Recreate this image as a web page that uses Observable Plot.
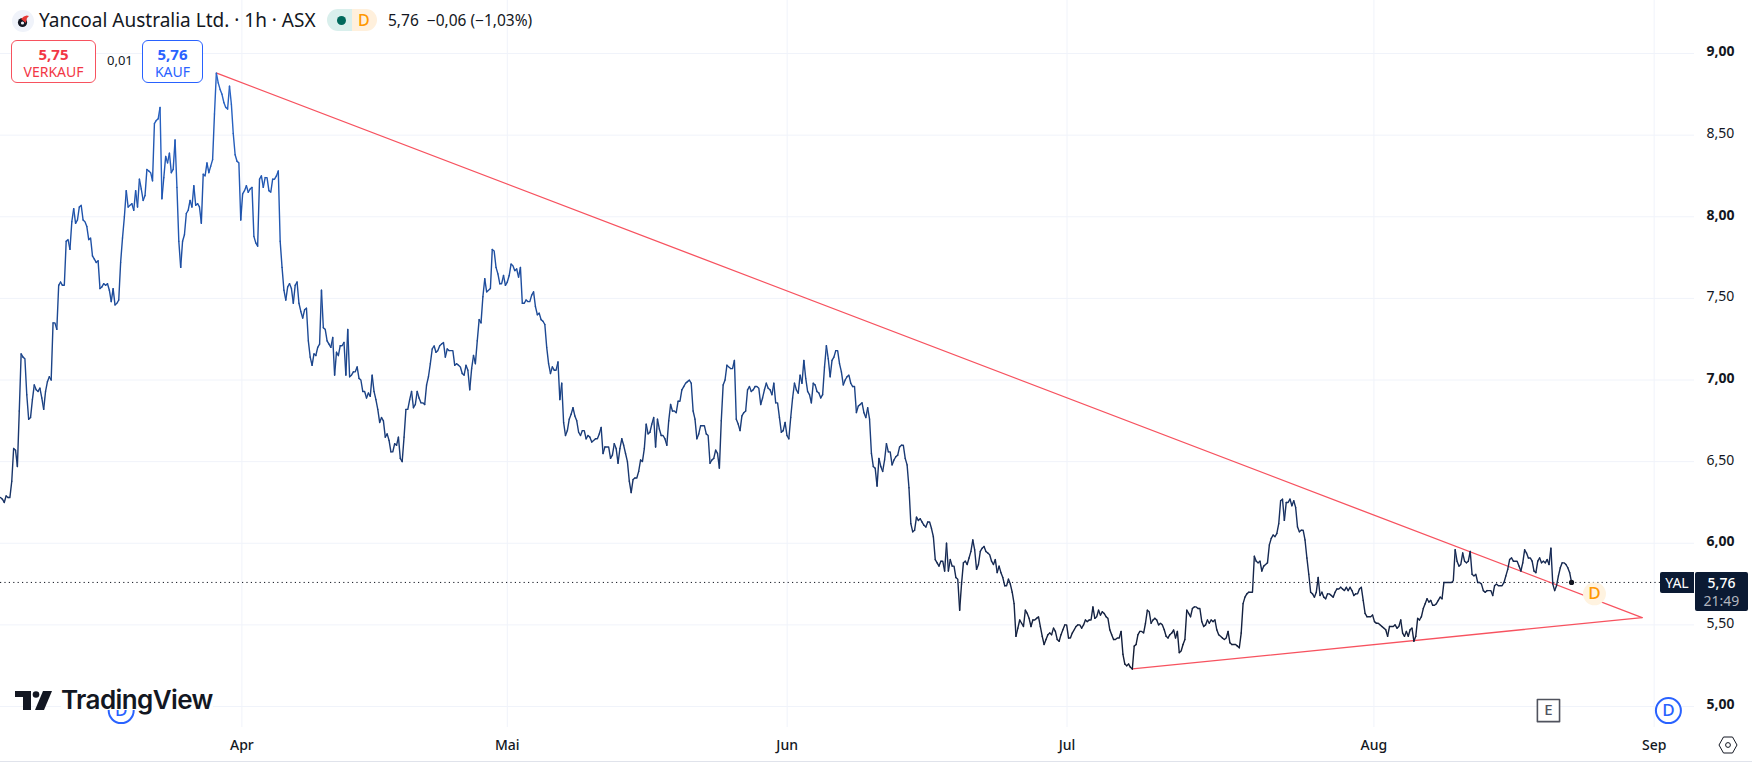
<!DOCTYPE html>
<html lang="de">
<head>
<meta charset="utf-8">
<title>Yancoal Australia Ltd. 1h ASX</title>
<script src="https://cdn.jsdelivr.net/npm/d3@7"></script>
<script src="https://cdn.jsdelivr.net/npm/@observablehq/plot@0.6"></script>
<style>
html,body{margin:0;padding:0;background:#fff;width:1752px;height:765px;overflow:hidden}
#stage{position:relative;width:1752px;height:765px;font-family:"Noto Sans",sans-serif;color:#131722}
#stage svg{display:block}
.ov{position:absolute;white-space:nowrap;line-height:1}
.box{position:absolute;box-sizing:border-box;border:1px solid;border-radius:6px;top:40px;height:43px;text-align:center;background:#fff}
.box b{display:block;font-size:15px;font-weight:700;line-height:15px;margin-top:6px}
.box span{display:block;font-size:14px;line-height:14px;margin-top:3px}
</style>
</head>
<body>
<div id="stage"></div>
<script>
// Hourly closes, one entry per bar
const closes = [
6.28,6.27,6.25,6.29,6.28,6.28,6.38,6.58,6.57,6.47,6.81,7.16,7.14,7.13,6.91,6.76,6.77,6.88,6.97,6.94,
6.93,6.95,6.89,6.82,6.93,6.99,7.02,7.00,7.35,7.35,7.31,7.58,7.60,7.58,7.58,7.85,7.86,7.80,7.97,8.05,
7.96,7.98,8.06,8.07,7.98,7.97,7.94,7.86,7.87,7.76,7.74,7.72,7.73,7.56,7.57,7.59,7.58,7.59,7.55,7.48,
7.56,7.46,7.47,7.49,7.72,7.87,8.00,8.16,8.06,8.07,8.08,8.04,8.16,8.06,8.23,8.17,8.10,8.13,8.29,8.28,
8.27,8.22,8.57,8.59,8.60,8.67,8.11,8.24,8.37,8.33,8.39,8.27,8.29,8.47,8.18,7.85,7.69,7.85,7.89,8.02,
8.04,8.10,8.06,8.19,8.07,8.08,8.06,7.96,8.26,8.25,8.33,8.27,8.31,8.35,8.63,8.88,8.82,8.78,8.75,8.70,
8.67,8.66,8.80,8.69,8.51,8.38,8.34,8.33,7.98,8.14,8.16,8.19,8.15,8.17,8.18,7.88,7.84,7.82,8.23,8.25,
8.18,8.24,8.24,8.16,8.15,8.23,8.23,8.25,8.28,7.85,7.69,7.55,7.49,7.57,7.59,7.56,7.47,7.58,7.60,7.47,
7.42,7.38,7.43,7.44,7.24,7.14,7.09,7.16,7.15,7.20,7.22,7.55,7.32,7.31,7.24,7.22,7.20,7.26,7.03,7.17,
7.15,7.21,7.21,7.23,7.03,7.31,7.02,7.03,7.05,7.05,7.08,7.01,7.00,6.93,6.93,6.89,6.92,6.90,7.03,6.93,
6.88,6.82,6.74,6.77,6.75,6.65,6.67,6.63,6.56,6.56,6.61,6.60,6.65,6.52,6.50,6.65,6.82,6.82,6.88,6.93,
6.83,6.85,6.93,6.89,6.86,6.86,6.85,6.97,7.02,7.10,7.19,7.21,7.17,7.18,7.21,7.22,7.23,7.14,7.19,7.18,
7.18,7.18,7.09,7.10,7.09,7.08,7.04,7.03,7.09,7.06,6.94,7.07,7.15,7.10,7.24,7.37,7.35,7.51,7.62,7.54,
7.55,7.56,7.80,7.79,7.69,7.65,7.59,7.59,7.64,7.58,7.60,7.64,7.71,7.70,7.67,7.68,7.63,7.69,7.47,7.47,
7.49,7.48,7.48,7.52,7.54,7.45,7.40,7.41,7.37,7.36,7.34,7.20,7.10,7.04,7.08,7.06,7.06,7.11,6.88,6.98,
6.74,6.66,6.69,6.76,6.79,6.83,6.78,6.75,6.68,6.66,6.69,6.69,6.64,6.66,6.65,6.62,6.63,6.64,6.64,6.67,
6.71,6.55,6.59,6.59,6.59,6.52,6.54,6.61,6.58,6.49,6.58,6.64,6.60,6.55,6.50,6.38,6.31,6.39,6.40,6.40,
6.44,6.51,6.50,6.58,6.73,6.67,6.68,6.73,6.77,6.59,6.76,6.70,6.66,6.66,6.64,6.60,6.75,6.85,6.81,6.81,
6.80,6.87,6.87,6.94,6.96,6.98,6.99,7.00,6.98,6.81,6.76,6.64,6.67,6.72,6.72,6.72,6.67,6.66,6.49,6.51,
6.52,6.57,6.55,6.46,6.75,6.97,7.00,7.09,7.08,7.07,7.07,7.12,6.76,6.73,6.69,6.78,6.80,6.81,6.94,6.96,
6.93,6.94,6.96,6.96,6.95,6.85,6.89,6.94,6.98,6.95,6.94,6.91,6.98,6.86,6.86,6.77,6.68,6.69,6.74,6.66,
6.64,6.77,6.89,6.98,6.94,6.92,7.03,6.98,7.12,7.01,6.93,6.91,6.86,6.98,6.97,6.93,6.92,6.89,6.91,7.08,
7.21,7.13,7.02,7.12,7.14,7.18,7.18,7.10,7.05,6.97,7.00,7.02,7.03,6.98,6.96,6.96,6.80,6.84,6.85,6.86,
6.80,6.77,6.83,6.76,6.55,6.47,6.46,6.35,6.52,6.47,6.44,6.51,6.61,6.56,6.56,6.48,6.51,6.53,6.54,6.59,
6.60,6.60,6.52,6.48,6.34,6.12,6.07,6.08,6.16,6.14,6.15,6.13,6.11,6.10,6.13,6.13,6.09,6.04,5.90,5.88,
5.86,5.89,5.89,5.83,6.00,5.83,5.90,5.86,5.86,5.79,5.78,5.59,5.75,5.88,5.89,5.87,5.91,5.95,6.02,5.96,
5.84,5.87,5.95,5.97,5.98,5.95,5.94,5.93,5.89,5.87,5.90,5.82,5.86,5.82,5.79,5.74,5.74,5.78,5.75,5.70,
5.63,5.43,5.48,5.53,5.51,5.49,5.59,5.57,5.54,5.49,5.53,5.53,5.54,5.55,5.49,5.43,5.38,5.41,5.44,5.45,
5.44,5.48,5.46,5.41,5.40,5.44,5.47,5.50,5.50,5.42,5.42,5.45,5.47,5.49,5.50,5.50,5.48,5.50,5.53,5.52,
5.53,5.53,5.61,5.54,5.55,5.59,5.56,5.58,5.57,5.55,5.54,5.47,5.44,5.41,5.41,5.42,5.42,5.46,5.32,5.26,
5.25,5.26,5.24,5.23,5.37,5.38,5.44,5.46,5.46,5.45,5.51,5.59,5.58,5.51,5.53,5.54,5.53,5.50,5.51,5.50,
5.47,5.43,5.42,5.44,5.45,5.47,5.42,5.46,5.33,5.34,5.38,5.41,5.59,5.57,5.55,5.60,5.61,5.61,5.60,5.60,
5.52,5.49,5.50,5.53,5.51,5.53,5.52,5.53,5.47,5.44,5.43,5.42,5.41,5.42,5.46,5.39,5.38,5.38,5.38,5.37,
5.36,5.45,5.63,5.67,5.69,5.70,5.70,5.70,5.92,5.89,5.88,5.89,5.83,5.86,5.87,5.88,5.99,6.03,6.05,6.04,
6.06,6.12,6.26,6.27,6.14,6.25,6.25,6.27,6.23,6.26,6.22,6.10,6.07,6.08,6.08,6.02,5.91,5.81,5.70,5.69,
5.67,5.70,5.79,5.68,5.70,5.67,5.66,5.69,5.69,5.68,5.67,5.70,5.72,5.72,5.73,5.72,5.71,5.73,5.71,5.73,
5.71,5.68,5.69,5.69,5.72,5.73,5.65,5.57,5.55,5.55,5.55,5.56,5.52,5.51,5.51,5.50,5.49,5.48,5.47,5.43,
5.49,5.49,5.49,5.50,5.48,5.49,5.53,5.45,5.43,5.46,5.43,5.47,5.48,5.40,5.43,5.54,5.53,5.55,5.60,5.63,
5.66,5.64,5.65,5.62,5.62,5.63,5.65,5.67,5.66,5.76,5.76,5.76,5.76,5.76,5.77,5.96,5.89,5.86,5.87,5.94,
5.89,5.88,5.89,5.95,5.81,5.80,5.81,5.76,5.76,5.75,5.71,5.70,5.71,5.71,5.71,5.68,5.74,5.75,5.74,5.74,
5.74,5.76,5.80,5.84,5.90,5.91,5.89,5.89,5.89,5.86,5.83,5.88,5.96,5.94,5.91,5.91,5.89,5.83,5.82,5.89,
5.91,5.88,5.89,5.88,5.90,5.87,5.97,5.75,5.71,5.74,5.80,5.85,5.88,5.88,5.87,5.85,5.82,5.76
];
const lastClose = 5.76;

// Month ticks on the bar axis
const monthBars = [128.6, 270, 419.1, 568.2, 731.7, 881];
const monthLabels = ["Apr", "Mai", "Jun", "Jul", "Aug", "Sep"];

// Price ticks
const majorPrices = [5, 6, 7, 8, 9];
const minorPrices = [5.5, 6.5, 7.5, 8.5];

// Drawn trend lines: [bar, price]
const upperTrendBars = [115.2, 874.6];
const upperTrendPrices = [8.88, 5.545];
const lowerTrendBars = [603, 874.6];
const lowerTrendPrices = [5.23, 5.545];

// Event markers on the chart
const dividendBars = [64.3, 888.6];
const dividendPrices = [4.975, 4.975];
const earningsBar = [824.7];
const earningsPrice = [4.975];
const upcomingBar = [849.2];
const upcomingPrice = [5.69];

const series = closes.map((c, i) => ({bar: i, close: c}));
const comma = d => d.toFixed(2).replace(".", ",");
const monthName = d => monthLabels[monthBars.indexOf(d)];
const pts = (xs, ys) => xs.map((x, i) => ({x, y: ys[i]}));
const FONT = '"Noto Sans",sans-serif';

const plot = Plot.plot({
  width: 1752, height: 765,
  marginLeft: 0, marginRight: 58, marginTop: 0, marginBottom: 38,
  style: {fontFamily: FONT, background: "#fff", overflow: "visible"},
  x: {domain: [0, 902.5]},
  y: {domain: [4.8714, 9.3247]},
  color: {type: "linear", domain: [5.2, 6, 7, 8, 8.9],
          range: ["#131c33", "#172c58", "#1c4488", "#1f53ab", "#2a66c8"]},
  marks: [
    Plot.gridY([...majorPrices, ...minorPrices], {stroke: "#f0f3fa", strokeOpacity: 1, strokeWidth: 1}),
    Plot.gridX(monthBars, {stroke: "#f0f3fa", strokeOpacity: 1, strokeWidth: 1}),
    Plot.axisX({ticks: monthBars, tickSize: 0, tickPadding: 13, tickFormat: monthName, label: null,
                fontSize: 14, fontWeight: 500, fill: "#131722"}),
    Plot.axisY({ticks: majorPrices, anchor: "right", tickSize: 0, tickPadding: 12, tickFormat: comma, label: null,
                fontSize: 14, fontWeight: 700, fill: "#131722", dy: -1.5}),
    Plot.axisY({ticks: minorPrices, anchor: "right", tickSize: 0, tickPadding: 12, tickFormat: comma, label: null,
                fontSize: 14, fontWeight: 400, fill: "#131722", dy: -1.5}),
    Plot.ruleY([lastClose], {stroke: "#131722", strokeWidth: 1, strokeDasharray: "1.2,3.2"}),
    Plot.line(pts(upperTrendBars, upperTrendPrices), {x: "x", y: "y", stroke: () => "#f7525f", strokeWidth: 1.3}),
    Plot.line(pts(lowerTrendBars, lowerTrendPrices), {x: "x", y: "y", stroke: () => "#f7525f", strokeWidth: 1.3}),
    Plot.line(series, {x: "bar", y: "close", z: null, stroke: "close", strokeWidth: 1.4, strokeLinejoin: "round"}),
    Plot.dot(series.slice(-1), {x: "bar", y: "close", r: 2.6, fill: () => "#131722"}),
    Plot.dot(pts(dividendBars, dividendPrices), {x: "x", y: "y", r: 12.5, fill: () => "#fff", stroke: () => "#2962ff", strokeWidth: 2}),
    Plot.text(pts(dividendBars, dividendPrices), {x: "x", y: "y", text: () => "D", fill: () => "#2962ff", fontSize: 17, fontWeight: 500}),
    Plot.dot(pts(earningsBar, earningsPrice), {x: "x", y: "y", r: 12.5, symbol: "square", fill: () => "#fff", stroke: () => "#50535e", strokeWidth: 1.6, strokeLinejoin: "round"}),
    Plot.text(pts(earningsBar, earningsPrice), {x: "x", y: "y", text: () => "E", fill: () => "#50535e", fontSize: 15, fontWeight: 500}),
    Plot.dot(pts(upcomingBar, upcomingPrice), {x: "x", y: "y", r: 11.5, fill: () => "#fff3e0"}),
    Plot.text(pts(upcomingBar, upcomingPrice), {x: "x", y: "y", text: () => "D", fill: () => "#ff9800", fontSize: 17, fontWeight: 500})
  ]
});

const stage = document.getElementById("stage");
stage.appendChild(plot);

function overlay(html) {
  const t = document.createElement("template");
  t.innerHTML = html.trim();
  stage.appendChild(t.content.firstChild);
}
// Header
overlay(`<svg class="ov" style="left:12px;top:10px" width="22" height="22" viewBox="0 0 22 22"><circle cx="11" cy="11" r="11" fill="#f0f3fa"/><circle cx="10.5" cy="12.5" r="4.6" fill="#131722"/><circle cx="10.5" cy="13" r="1.6" fill="#f0f3fa"/><path d="M9 9 Q13 4 17 6 Q14 8 14 13 Z" fill="#e53935"/></svg>`);
overlay(`<div class="ov" style="left:39px;top:11px;font-size:19px;color:#131722">Yancoal Australia Ltd. · 1h · ASX</div>`);
overlay(`<div class="ov" style="left:327px;top:9px;width:25px;height:22px;background:#d9efec;border-radius:11px 0 0 11px"></div>`);
overlay(`<div class="ov" style="left:352px;top:9px;width:25px;height:22px;background:#fff0dc;border-radius:0 11px 11px 0"></div>`);
overlay(`<div class="ov" style="left:337px;top:15.5px;width:9px;height:9px;border-radius:50%;background:#00695c"></div>`);
overlay(`<div class="ov" style="left:358px;top:12px;font-size:16px;font-weight:500;color:#ff9800">D</div>`);
overlay(`<div class="ov" style="left:388px;top:13px;font-size:15.5px;color:#131722">5,76&nbsp; −0,06 (−1,03%)</div>`);
// Bid / ask
overlay(`<div class="box" style="left:11px;width:85px;border-color:#f7525f;color:#f23645"><b>5,75</b><span>VERKAUF</span></div>`);
overlay(`<div class="ov" style="left:107px;top:54px;font-size:13px;color:#131722">0,01</div>`);
overlay(`<div class="box" style="left:142px;width:61px;border-color:#2962ff;color:#2962ff"><b>5,76</b><span>KAUF</span></div>`);
// Logo (sits over the chart and masks what is beneath it)
overlay(`<svg class="ov" style="left:0;top:680px" width="60" height="40" viewBox="0 0 60 40"><path d="M15 11H31V30H23V17H15Z" fill="#131722"/><circle cx="36" cy="14.5" r="3.3" fill="#131722"/><path d="M43 11H52L44 30H35Z" fill="#131722"/></svg>`);
overlay(`<div class="ov" style="left:61px;top:687px;height:23px;background:#fff;font-family:Inter,sans-serif;font-size:26px;font-weight:600;letter-spacing:-0.6px;color:#131722">TradingView</div>`);
// Last price labels
overlay(`<div class="ov" style="left:1660px;top:572px;width:34px;height:21px;background:#0b1a33;border-radius:2px 0 0 2px;color:#fff;font-size:14px;line-height:21px;text-align:center">YAL</div>`);
overlay(`<div class="ov" style="left:1695px;top:572px;width:53px;height:39px;background:#0b1a33;border-radius:2px;text-align:center"><div style="color:#fff;font-size:14px;font-weight:500;line-height:19px;margin-top:1px">5,76</div><div style="color:#b2b5be;font-size:14px;line-height:18px">21:49</div></div>`);
// Settings icon and bottom border
overlay(`<svg class="ov" style="left:1718px;top:736px" width="20" height="18" viewBox="0 0 20 18"><path d="M5.5 1H14.5L19 9L14.5 17H5.5L1 9Z" fill="none" stroke="#131722" stroke-width="1"/><circle cx="10" cy="9" r="2.4" fill="none" stroke="#131722" stroke-width="1"/></svg>`);
overlay(`<div class="ov" style="left:0;top:761px;width:1752px;height:1px;background:#e0e3eb"></div>`);
</script>
</body>
</html>
